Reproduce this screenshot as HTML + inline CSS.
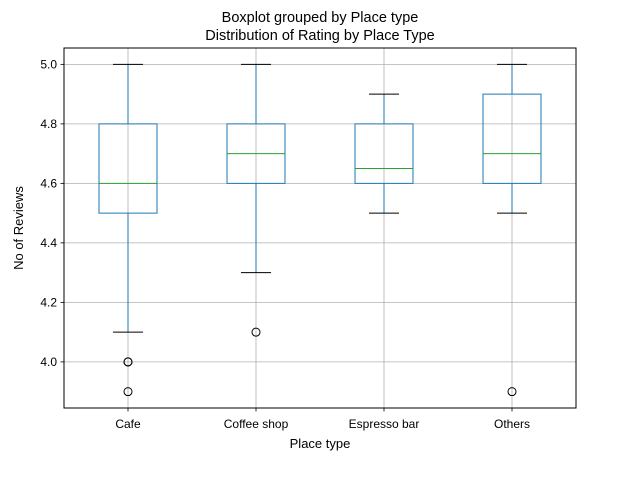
<!DOCTYPE html>
<html><head><meta charset="utf-8"><style>
body{margin:0;background:#fff;}
svg{font-family:"Liberation Sans","DejaVu Sans",sans-serif;display:block;}
</style></head><body>
<svg id="chart" width="640" height="480" viewBox="0 0 640 480" xmlns="http://www.w3.org/2000/svg">
<rect width="640" height="480" fill="#fff"/>
<text x="320" y="22" font-size="14.5" text-anchor="middle">Boxplot grouped by Place type</text>
<text x="320" y="40" font-size="14.5" text-anchor="middle">Distribution of Rating by Place Type</text>
<g id="grid"></g>
<g id="boxes"></g>
<rect x="64" y="48" width="512" height="360" fill="none" stroke="#000" stroke-width="1"/>
<g id="axes"></g>
<text x="320" y="448" font-size="13" text-anchor="middle">Place type</text>
<text x="23" y="228" font-size="13" text-anchor="middle" transform="rotate(-90 23 228)">No of Reviews</text>
</svg>
<script>
const categories = ["Cafe","Coffee shop","Espresso bar","Others"];
const whiskerLow = [4.1, 4.3, 4.5, 4.5];
const q1 = [4.5, 4.6, 4.6, 4.6];
const medians = [4.6, 4.7, 4.65, 4.7];
const q3 = [4.8, 4.8, 4.8, 4.9];
const whiskerHigh = [5.0, 5.0, 4.9, 5.0];
const fliers = [[4.0, 4.0, 3.9], [4.1], [], [3.9]];
const yTicks = [4.0, 4.2, 4.4, 4.6, 4.8, 5.0];
const yTickLabels = ["4.0","4.2","4.4","4.6","4.8","5.0"];

const L=64,R=576,T=48,B=408, ymin=3.845, ymax=5.055;
const y = v => B - (v - ymin) / (ymax - ymin) * (B - T);
const x = i => L + (i + 0.5) / categories.length * (R - L);
const NS="http://www.w3.org/2000/svg";
function mk(parent, tag, attrs){const e=document.createElementNS(NS,tag);for(const k in attrs)e.setAttribute(k,attrs[k]);parent.appendChild(e);return e;}
const grid=document.getElementById('grid'), boxes=document.getElementById('boxes'), axes=document.getElementById('axes');
yTicks.forEach((t,i)=>{
  const g=mk(grid,'line',{x1:L,x2:R,y1:y(t),y2:y(t),stroke:'#b0b0b0','stroke-width':0.8});
  
  
  mk(axes,'line',{x1:L-3.5,x2:L,y1:y(t),y2:y(t),stroke:'#000','stroke-width':0.8});
  const tx=mk(axes,'text',{x:L-7,y:y(t)+4,'font-size':12,'text-anchor':'end'});
  tx.textContent=yTickLabels[i];
  
  
});
categories.forEach((c,i)=>{
  const cx=x(i);
  const g=mk(grid,'line',{x1:cx,x2:cx,y1:T,y2:B,stroke:'#b0b0b0','stroke-width':0.8});
  
  
  mk(axes,'line',{x1:cx,x2:cx,y1:B,y2:B+3.5,stroke:'#000','stroke-width':0.8});
  const tx=mk(axes,'text',{x:cx,y:B+20,'font-size':12,'text-anchor':'middle'});
  tx.textContent=c;
  
  
  const bw=29, cw=15, col='#1f77b4';
  const grp=mk(boxes,'g',{});
  
  
  mk(grp,'line',{x1:cx,x2:cx,y1:y(q3[i]),y2:y(whiskerHigh[i]),stroke:col,'stroke-width':1});
  mk(grp,'line',{x1:cx,x2:cx,y1:y(q1[i]),y2:y(whiskerLow[i]),stroke:col,'stroke-width':1});
  mk(grp,'line',{x1:cx-cw,x2:cx+cw,y1:y(whiskerHigh[i]),y2:y(whiskerHigh[i]),stroke:'#000','stroke-width':1});
  mk(grp,'line',{x1:cx-cw,x2:cx+cw,y1:y(whiskerLow[i]),y2:y(whiskerLow[i]),stroke:'#000','stroke-width':1});
  mk(grp,'rect',{x:cx-bw,y:y(q3[i]),width:2*bw,height:y(q1[i])-y(q3[i]),fill:'none',stroke:col,'stroke-width':1});
  mk(grp,'line',{x1:cx-bw,x2:cx+bw,y1:y(medians[i]),y2:y(medians[i]),stroke:'#2ca02c','stroke-width':1});
  fliers[i].forEach(v=>{
    const f=mk(grp,'circle',{cx:cx,cy:y(v),r:4,fill:'none',stroke:'#000','stroke-width':1});
    
    
  });
});
</script>
</body></html>
